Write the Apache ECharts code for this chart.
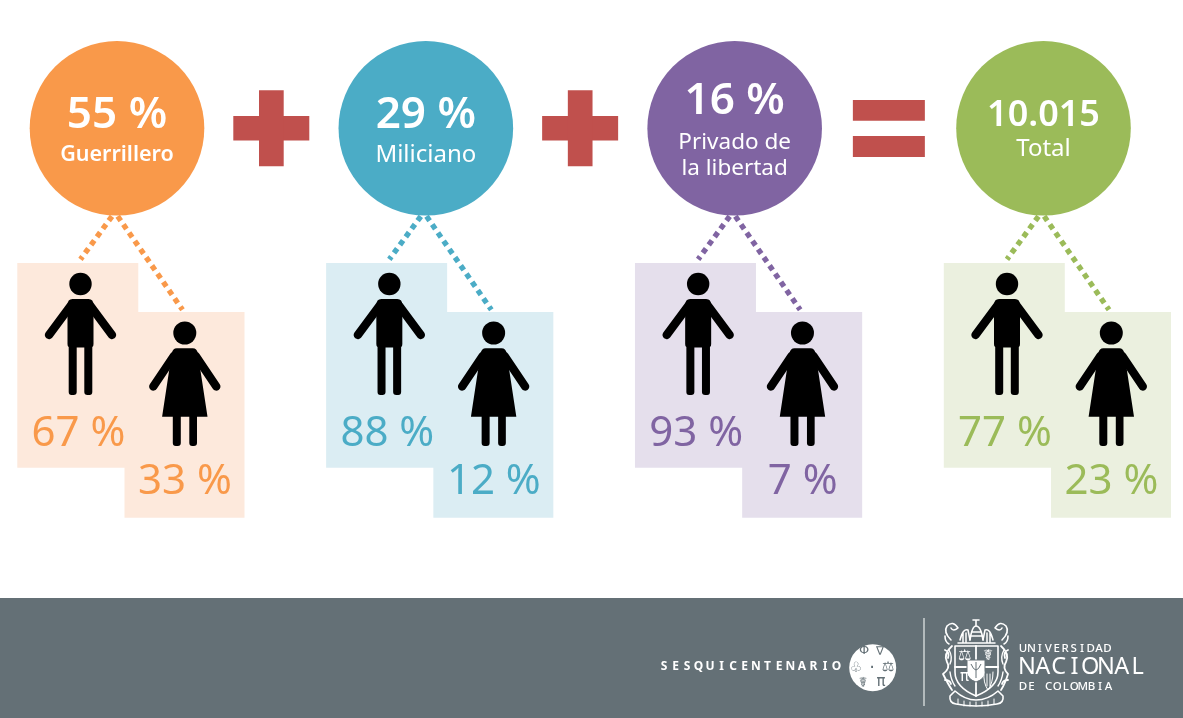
<!DOCTYPE html>
<html>
<head>
<meta charset="utf-8">
<style>html,body{margin:0;padding:0;background:#fff}#c{width:1183px;height:718px}</style>
<script src="https://cdn.jsdelivr.net/npm/echarts@6/dist/echarts.min.js"></script>
</head>
<body>
<div id="c"></div>
<script>
// ---- data ----
var categories = ['Guerrillero', 'Miliciano', 'Privado de\nla libertad', 'Total'];
var headlines = ['55 %', '29 %', '16 %', '10.015'];
var menShare = [67, 88, 93, 77];
var womenShare = [33, 12, 7, 23];
var operators = ['+', '+', '=', ''];

// ---- styles ----
var strong = ['#F9994A', '#4BACC6', '#8064A2', '#9BBB59'];
var pale = ['#FDE9DC', '#DBEDF3', '#E5DFEC', '#EBF0DF'];
var opColor = '#C0504D';
var footerColor = '#647076';
var FONT = '"Noto Sans"';

function rect(x, y, w, h, fill) { return {type: 'rect', shape: {x: x, y: y, width: w, height: h}, style: {fill: fill}}; }
function txt(s, x, y, font, fill) {
  return {type: 'text', style: {text: s, x: x, y: y, font: font, fill: fill, align: 'center', verticalAlign: 'middle', textAlign: 'center', textVerticalAlign: 'middle'}};
}
function dotted(x1, y1, x2, y2, c) {
  return {type: 'line', shape: {x1: x1, y1: y1, x2: x2, y2: y2}, style: {stroke: c, lineWidth: 5.4, lineDash: [5.4, 4.6], fill: null}};
}
function limb(x1, y1, x2, y2) {
  return {type: 'line', shape: {x1: x1, y1: y1, x2: x2, y2: y2}, style: {stroke: '#000', lineWidth: 8.4, lineCap: 'round', fill: null}};
}
function man(x, y) {
  return {type: 'group', x: x, y: y, children: [
    {type: 'circle', shape: {cx: 0, cy: 0, r: 11.2}, style: {fill: '#000'}},
    {type: 'path', shape: {pathData: 'M-8,15 L8,15 Q13,15 13,21 L13,60 Q13,63 11.8,63 L11.8,108 Q11.8,111 9,111 L7,111 Q3.8,111 3.8,108 L3.8,63.5 L-3.8,63.5 L-3.8,108 Q-3.8,111 -7,111 L-9,111 Q-11.8,111 -11.8,108 L-11.8,63 Q-13,63 -13,60 L-13,21 Q-13,15 -8,15 Z'}, style: {fill: '#000'}},
    limb(-10, 22, -31.5, 51), limb(10, 22, 31.5, 51)
  ]};
}
function woman(x, y) {
  return {type: 'group', x: x, y: y, children: [
    {type: 'circle', shape: {cx: 0, cy: 0, r: 11.5}, style: {fill: '#000'}},
    {type: 'path', shape: {pathData: 'M-8,15.3 L8,15.3 Q12,15.3 13,20 L22.7,83.7 L12.2,83.7 L12.2,110 Q12.2,113 9,113 L7.5,113 Q4.5,113 4.5,110 L4.5,83.7 L-4,83.7 L-4,110 Q-4,113 -7,113 L-9,113 Q-12,113 -12,110 L-12,83.7 L-22.7,83.7 L-13,20 Q-12,15.3 -8,15.3 Z'}, style: {fill: '#000'}},
    limb(-11, 23, -31.5, 53.5), limb(11, 23, 31.5, 53.5)
  ]};
}

function renderGroup(params, api) {
  var i = api.value(0);
  var p = api.coord([i, 0]);
  var c = strong[i], lines = categories[i].split('\n');
  var kids = [];
  kids.push(dotted(-5, 88, -36.5, 131, c), dotted(0.7, 88, 65.5, 181.5, c));
  kids.push({type: 'circle', shape: {cx: 0, cy: 0, r: 87.3}, style: {fill: c}});
  kids.push(rect(-99.7, 134.7, 121, 204.7, pale[i]), rect(7.5, 183.7, 120, 205.7, pale[i]));
  kids.push(man(-36.5, 155.7), woman(67.8, 204.7));
  kids.push(txt(api.value(1) + ' %', -38.5, 305.7, '400 42px ' + FONT, c));
  kids.push(txt(api.value(2) + ' %', 68, 354, '400 42px ' + FONT, c));
  var isPrivado = lines.length > 1, isTotal = i === 3;
  kids.push(txt(headlines[i], 0, isPrivado ? -26.5 : -13, '600 ' + (isTotal ? 36 : 44) + 'px ' + FONT, '#fff'));
  if (isPrivado) {
    kids.push(txt(lines[0], 0, 14.5, '400 22.5px ' + FONT, '#fff'), txt(lines[1], 0, 40.5, '400 22.5px ' + FONT, '#fff'));
  } else if (i === 0) {
    kids.push(txt(lines[0], 0, 27, '600 21.5px ' + FONT, '#fff'));
  } else {
    kids.push(txt(lines[0], 0, isTotal ? 21 : 27, '400 24px ' + FONT, '#fff'));
  }
  if (operators[i] === '+') {
    kids.push(rect(116.3, -12.2, 76, 24.4, opColor), rect(142, -38, 24.7, 76, opColor));
  } else if (operators[i] === '=') {
    kids.push(rect(118.2, -28.3, 72, 20.7, opColor), rect(118.2, 7.7, 72, 21, opColor));
  }
  return {type: 'group', x: p[0], y: p[1], children: kids};
}

var F = footerColor;
function w(s, x, y, font, anchor) {
  return {type: 'text', x: x, y: y, style: {text: s, font: font, fill: '#fff', align: anchor || 'left', verticalAlign: 'middle'}};
}
function g(s, x, y, size, family) {
  return {type: 'text', x: x, y: y, style: {text: s, font: '400 ' + size + 'px ' + (family || '"DejaVu Sans"'), fill: F, align: 'center', verticalAlign: 'middle'}};
}
function stroke(d, lw) {
  return {type: 'path', shape: {pathData: d}, style: {fill: null, stroke: '#fff', lineWidth: lw || 1.2, lineCap: 'round', lineJoin: 'round'}};
}
function spaced(s, x, y, font, step) {
  return s.split('').map(function (ch, k) { return {type: 'text', x: x + k * step, y: y, style: {text: ch, font: font, fill: '#fff', align: 'center', verticalAlign: 'middle'}}; });
}

var footer = [
  {type: 'rect', shape: {x: 0, y: 598, width: 1183, height: 120}, style: {fill: F}},
  {type: 'line', shape: {x1: 924, y1: 618, x2: 924, y2: 706}, style: {stroke: '#E8ECEC', lineWidth: 1.2}},
  {type: 'circle', shape: {cx: 872.7, cy: 667.7, r: 23.5}, style: {fill: '#fff'}},
  g('Φ', 864, 651, 13), g('∇', 880, 652, 12), g('⚖', 888, 667, 14), g('♧', 856, 668, 14),
  g('☤', 863, 683, 14), g('π', 881, 682, 15), g('·', 872, 668, 18),
  // university seal
  stroke('M955,646 L998,646 L998,672 Q998,687 976,696 Q955,687 955,672 Z', 1.6),
  stroke('M976,646 L976,696 M955,667 L998,667', 1.8),
  {type: 'path', shape: {pathData: 'M967,660 L985,660 L985,672 Q985,679 976,682 Q967,679 967,672 Z'}, style: {fill: '#fff', stroke: F, lineWidth: 1}},
  {type: 'path', shape: {pathData: 'M971,664 Q976,676 981,664 M976,662 L976,678'}, style: {fill: null, stroke: F, lineWidth: 1}},
  w('⚖', 958, 656, '400 15px "DejaVu Sans"'),
  w('☤', 983, 656, '400 15px "DejaVu Sans"'),
  w('π', 960, 677, '400 15px "DejaVu Sans"'),
  stroke('M984,672 Q983,683 988,690 Q993,683 993,672 M987,674 L987,686 M990,674 L990,686', 1),
  stroke('M951,640 Q943,632 947,626 Q953,620 958,628 Q953,632 951,628 M949,644 Q945,642 945,636', 1.6),
  stroke('M1002,640 Q1010,632 1006,626 Q1000,620 995,628 Q1000,632 1002,628 M1004,644 Q1008,642 1008,636', 1.6),
  stroke('M952,646 Q943,654 947,662 Q951,668 943,674 Q948,684 952,690 M945,650 Q950,652 948,658 M945,680 Q950,680 951,684', 1.8),
  stroke('M1001,646 Q1010,654 1006,662 Q1002,668 1008,674 Q1005,684 1001,690 M1008,650 Q1003,652 1005,658 M1008,680 Q1003,680 1002,684', 1.8),
  stroke('M949,650 Q953,657 950,664 M950,672 Q951,680 955,686', 1.4),
  stroke('M1004,650 Q1000,657 1003,664 M1003,672 Q1002,680 998,686', 1.4),
  stroke('M960,640 Q963,628 968,630 L970,640 M993,640 Q990,628 985,630 L983,640 M963,642 L963,633 M966,642 L966,633 M990,642 L990,633 M987,642 L987,633 M958,643 L995,643', 1.5),
  stroke('M970,640 Q972,626 976,626 Q981,626 983,640 M976,626 L976,620 M973,620 L979,620 M972,632 L981,632 M972,636 L981,636', 1.6),
  stroke('M950,696 L955,691 Q965,700 976,700 Q988,700 998,691 L1003,696 Q1004,703 997,704 Q976,708 956,704 Q949,703 950,696 Z', 1.6),
  stroke('M958,699 L958,704 M964,701 L964,706 M970,702 L970,706 M976,702 L976,706 M982,702 L982,706 M988,701 L988,706 M994,699 L994,704', 1)
]
.concat(spaced('SESQUICENTENARIO', 664, 666.5, '700 12px "Noto Sans"', 11.5))
.concat(spaced('UNIVERSIDAD', 1023, 648.5, '500 11.5px "Noto Sans"', 8.45))
.concat(spaced('NACIONAL', 1027, 667.5, '400 23.5px "Noto Sans"', 15.8))
.concat(spaced('DE COLOMBIA', 1023, 687, '500 11.5px "Noto Sans"', 8.55));

var chart = echarts.init(document.getElementById('c'), null, {renderer: 'canvas'});
chart.setOption({
  animation: false,
  backgroundColor: '#fff',
  // first and last category sit on the grid edges; the y anchor is the circles' centre line
  grid: {left: 117, right: 139.5, top: 128.3, bottom: 0},
  xAxis: {type: 'category', data: categories, boundaryGap: false, show: false},
  yAxis: {type: 'value', min: 0, max: 1, inverse: true, show: false},
  series: [{
    type: 'custom',
    coordinateSystem: 'cartesian2d',
    renderItem: renderGroup,
    encode: {x: 0, y: 3},
    data: categories.map(function (c, i) { return [i, menShare[i], womenShare[i], 0]; })
  }, {
    type: 'custom',
    coordinateSystem: 'none',
    silent: true,
    renderItem: function () { return {type: 'group', children: footer}; },
    data: [[0]]
  }]
});
</script>
</body>
</html>
